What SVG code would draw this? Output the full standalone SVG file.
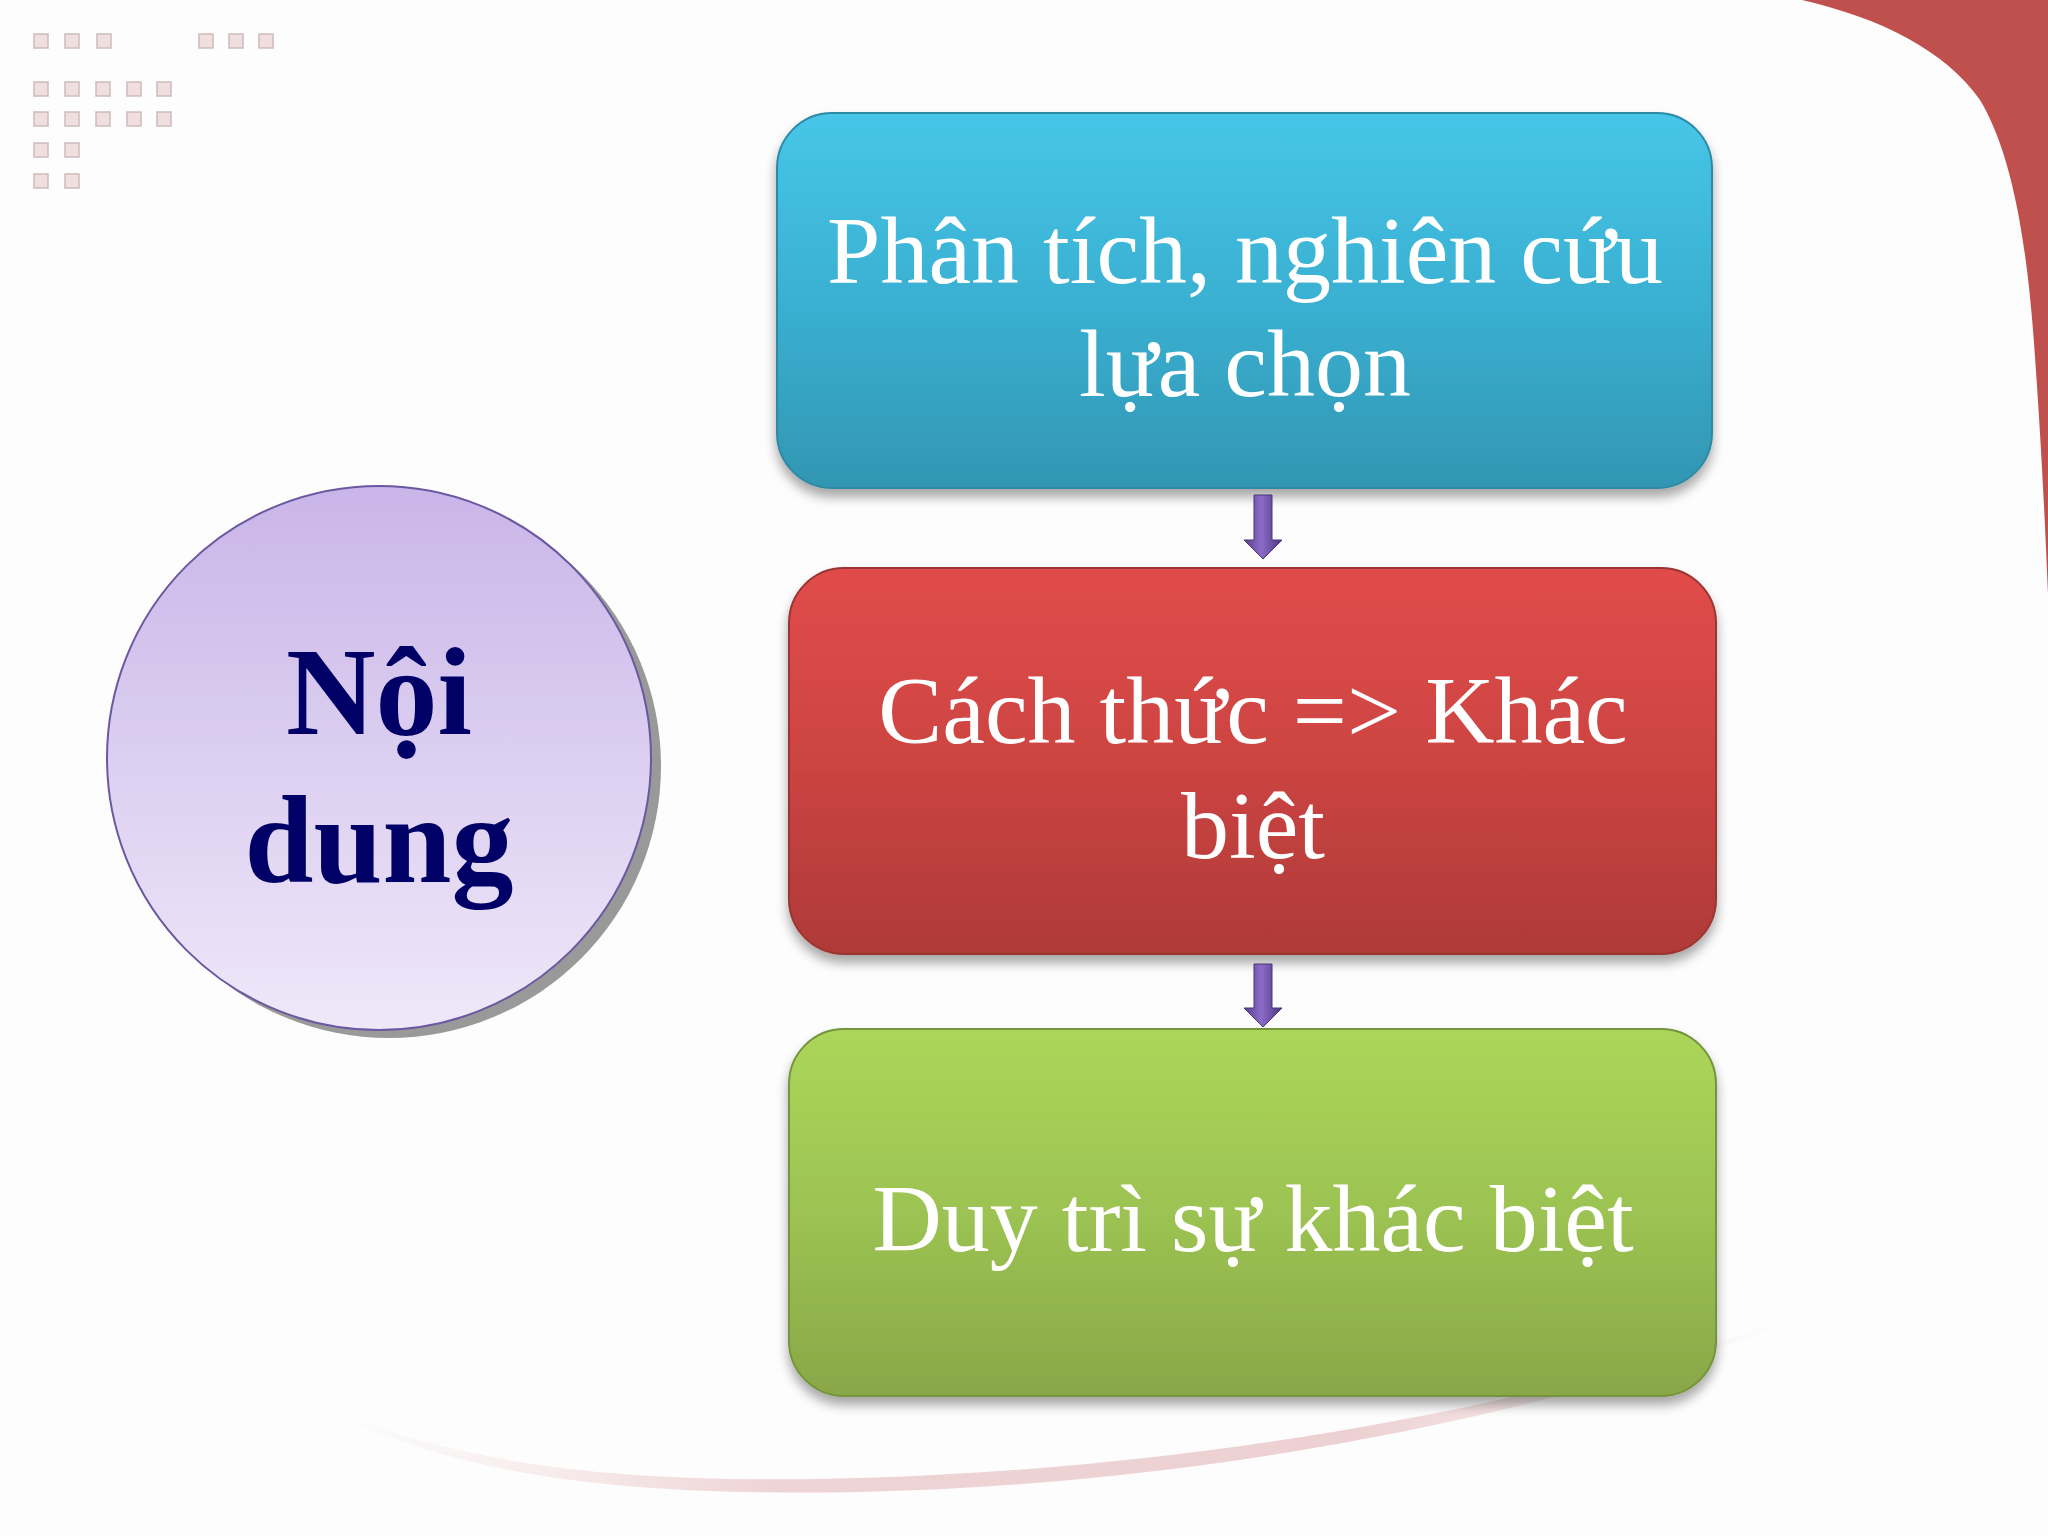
<svg xmlns="http://www.w3.org/2000/svg" width="2048" height="1536" viewBox="0 0 2048 1536">
<defs>
<style>
.sq{fill:#f1dede;stroke:#cdbcbc;stroke-width:1.5}
.box-t{font-family:"Liberation Serif","Times New Roman",serif;font-size:96px;fill:#ffffff;text-anchor:middle}
.circ-t{font-family:"Liberation Serif","Times New Roman",serif;font-size:124px;font-weight:bold;fill:#000066;text-anchor:middle}
</style>
<linearGradient id="gBlue" x1="0" y1="0" x2="0" y2="1">
<stop offset="0" stop-color="#46c6e8"/><stop offset="0.5" stop-color="#3ab0d2"/><stop offset="1" stop-color="#3296b2"/>
</linearGradient>
<linearGradient id="gRed" x1="0" y1="0" x2="0" y2="1">
<stop offset="0" stop-color="#e14c4a"/><stop offset="0.5" stop-color="#cc4442"/><stop offset="1" stop-color="#ae3a38"/>
</linearGradient>
<linearGradient id="gGreen" x1="0" y1="0" x2="0" y2="1">
<stop offset="0" stop-color="#acd65a"/><stop offset="0.5" stop-color="#9cc352"/><stop offset="1" stop-color="#89a748"/>
</linearGradient>
<linearGradient id="gCirc" x1="0" y1="0" x2="0" y2="1">
<stop offset="0" stop-color="#c9b5e8"/><stop offset="1" stop-color="#efe8f9"/>
</linearGradient>
<linearGradient id="gArrow" x1="0" y1="0" x2="1" y2="0">
<stop offset="0" stop-color="#5a3e8e"/><stop offset="0.45" stop-color="#8a6cc8"/><stop offset="1" stop-color="#4e3580"/>
</linearGradient>
<linearGradient id="gCurve" x1="0" y1="0" x2="1" y2="0">
<stop offset="0" stop-color="#f3dede" stop-opacity="0"/><stop offset="0.3" stop-color="#efd4d6"/><stop offset="0.7" stop-color="#ecd0d2"/><stop offset="1" stop-color="#f3dede" stop-opacity="0"/>
</linearGradient>
<filter id="shadow" x="-10%" y="-10%" width="120%" height="125%">
<feGaussianBlur in="SourceAlpha" stdDeviation="6"/>
<feOffset dx="0" dy="8" result="b"/>
<feComponentTransfer><feFuncA type="linear" slope="0.35"/></feComponentTransfer>
<feMerge><feMergeNode/><feMergeNode in="SourceGraphic"/></feMerge>
</filter>
</defs>
<rect width="2048" height="1536" fill="#fdfdfd"/>

<g id="decor">
<path d="M1802,0 C1880,18 1945,50 1980,100 C2010,150 2025,230 2033,330 C2040,420 2045,520 2048,594 L2048,0 Z" fill="#c0504d"/>
<path d="M333,1411 C480,1470 640,1484 860,1478 C1150,1470 1500,1420 1790,1318 L1790,1323 C1500,1432 1150,1486 860,1492 C640,1496 470,1480 333,1413 Z" fill="url(#gCurve)"/>
<rect class="sq" x="34" y="34" width="14" height="14"/>
<rect class="sq" x="65" y="34" width="14" height="14"/>
<rect class="sq" x="97" y="34" width="14" height="14"/>
<rect class="sq" x="199" y="34" width="14" height="14"/>
<rect class="sq" x="229" y="34" width="14" height="14"/>
<rect class="sq" x="259" y="34" width="14" height="14"/>
<rect class="sq" x="34" y="82" width="14" height="14"/>
<rect class="sq" x="65" y="82" width="14" height="14"/>
<rect class="sq" x="96" y="82" width="14" height="14"/>
<rect class="sq" x="127" y="82" width="14" height="14"/>
<rect class="sq" x="157" y="82" width="14" height="14"/>
<rect class="sq" x="34" y="112" width="14" height="14"/>
<rect class="sq" x="65" y="112" width="14" height="14"/>
<rect class="sq" x="96" y="112" width="14" height="14"/>
<rect class="sq" x="127" y="112" width="14" height="14"/>
<rect class="sq" x="157" y="112" width="14" height="14"/>
<rect class="sq" x="34" y="143" width="14" height="14"/>
<rect class="sq" x="65" y="143" width="14" height="14"/>
<rect class="sq" x="34" y="174" width="14" height="14"/>
<rect class="sq" x="65" y="174" width="14" height="14"/>
</g>

<g id="node-noi-dung">
<circle cx="389" cy="766" r="272" fill="#999999"/>
<circle cx="379" cy="758" r="272" fill="url(#gCirc)" stroke="#6a58a0" stroke-width="2"/>
<text class="circ-t" x="379" y="734">Nội</text>
<text class="circ-t" x="379" y="882">dung</text>
</g>

<g id="node-phan-tich">
<rect x="777" y="113" width="935" height="375" rx="55" fill="url(#gBlue)" stroke="#2f8aa4" stroke-width="2" filter="url(#shadow)"/>
<text class="box-t" x="1245" y="283">Phân tích, nghiên cứu</text>
<text class="box-t" x="1245" y="396">lựa chọn</text>
</g>

<g id="node-cach-thuc">
<rect x="789" y="568" width="927" height="386" rx="55" fill="url(#gRed)" stroke="#9c3432" stroke-width="2" filter="url(#shadow)"/>
<text class="box-t" x="1253" y="743">Cách thức =&gt; Khác</text>
<text class="box-t" x="1253" y="858">biệt</text>
</g>

<g id="node-duy-tri">
<rect x="789" y="1029" width="927" height="367" rx="55" fill="url(#gGreen)" stroke="#76933c" stroke-width="2" filter="url(#shadow)"/>
<text class="box-t" x="1253" y="1251">Duy trì sự khác biệt</text>
</g>

<g id="connectors">
<path d="M1254,495 L1272,495 L1272,540 L1282,540 L1263,559 L1244,540 L1254,540 Z" fill="url(#gArrow)" stroke="#4a3478" stroke-width="1"/>
<path d="M1254,964 L1272,964 L1272,1008 L1282,1008 L1263,1027 L1244,1008 L1254,1008 Z" fill="url(#gArrow)" stroke="#4a3478" stroke-width="1"/>
</g>
</svg>
